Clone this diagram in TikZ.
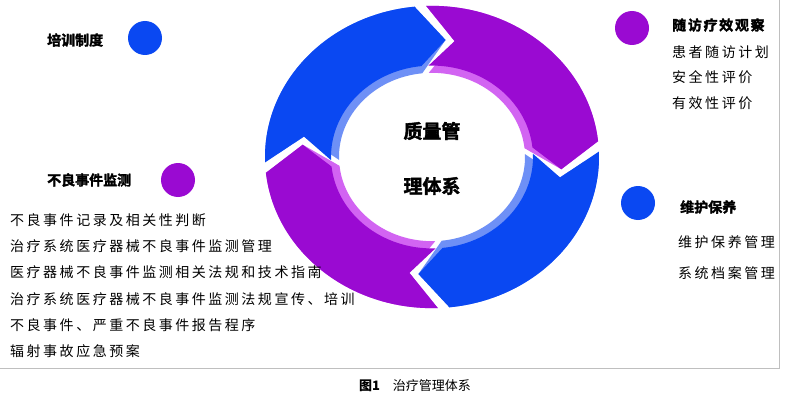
\documentclass[tikz,border=0pt]{standalone}
\usepackage{fontspec}
\setmainfont{Noto Sans CJK SC}
\newfontfamily\cjk{Noto Sans CJK SC}
\newfontfamily\cjksp[LetterSpace=18]{Noto Sans CJK SC}
\newfontfamily\cjkbold[BoldFont=*,FakeBold=2]{Noto Sans CJK SC Bold}
\definecolor{myblue}{HTML}{0A48F2}
\definecolor{myblueL}{HTML}{6E90F6}
\definecolor{mypurp}{HTML}{9A0AD2}
\definecolor{mypurpL}{HTML}{D264F2}
\begin{document}
\begin{tikzpicture}[x=1pt,y=1pt,
  lst/.style={anchor=west,inner sep=0pt,font=\fontsize{14}{14}\selectfont\cjksp},
  hdr/.style={anchor=west,inner sep=0pt,font=\fontsize{14}{14}\selectfont\cjkbold},
  dot/.style={circle,minimum size=34pt,inner sep=0pt}]
\useasboundingbox (0,0) rectangle (796,400);
\draw[gray!50,line width=1pt] (779,400) -- (779,32) -- (0,32);
\begin{scope}[shift={(432,243)},yscale=0.905]
\foreach \t/\c/\l in {182/myblue/myblueL, 92/mypurp/mypurpL, 2/myblue/myblueL, -88/mypurp/mypurpL}{
  \pgfmathsetmacro\h{\t-86}\pgfmathsetmacro\p{\t-98}\pgfmathsetmacro\n{\t-12}
  \fill[\l] (\t:167) arc[start angle=\t,end angle=\h,radius=167] -- (\p:130) -- (\h:93)
     arc[start angle=\h,end angle=\t,radius=93] -- (\n:130) -- cycle;
  \fill[\c] (\t:167) arc[start angle=\t,end angle=\h,radius=167] -- (\p:130) -- (\h:101)
     arc[start angle=\h,end angle=\t,radius=101] -- (\n:130) -- cycle;
}
\end{scope}
\node[font=\fontsize{19}{19}\selectfont\cjkbold,inner sep=0pt] (t1) at (432,269) {质量管};
\node[font=\fontsize{19}{19}\selectfont\cjkbold,inner sep=0pt] (t2) at (432,214) {理体系};
% left top
\node[hdr] (h1) at (47,360) {培训制度};
\node[dot,fill=myblue] (d1) at (145,362) {};
% right top
\node[hdr,font=\fontsize{14}{14}\selectfont\cjkbold\addfontfeature{LetterSpace=12}] (h2) at (672,375) {随访疗效观察};
\node[dot,fill=mypurp] (d2) at (632,372) {};
\node[lst] (r1) at (672,348) {患者随访计划};
\node[lst] (r2) at (672,323) {安全性评价};
\node[lst] (r3) at (672,297) {有效性评价};
% left mid
\node[hdr] (h3) at (47,220) {不良事件监测};
\node[dot,fill=mypurp] (d3) at (178,220) {};
\node[lst] (l1) at (10,180) {不良事件记录及相关性判断};
\node[lst] (l2) at (10,154) {治疗系统医疗器械不良事件监测管理};
\node[lst] (l3) at (10,128) {医疗器械不良事件监测相关法规和技术指南};
\node[lst] (l4) at (10,101) {治疗系统医疗器械不良事件监测法规宣传、培训};
\node[lst] (l5) at (10,75) {不良事件、严重不良事件报告程序};
\node[lst] (l6) at (10,49) {辐射事故应急预案};
% right mid
\node[hdr] (h4) at (680,193) {维护保养};
\node[dot,fill=myblue] (d4) at (638,197) {};
\node[lst] (m1) at (678,158) {维护保养管理};
\node[lst] (m2) at (678,127) {系统档案管理};
\node[font=\fontsize{13}{13}\selectfont\cjk,inner sep=0pt] (cap) at (415,14) {\textbf{图1}\quad 治疗管理体系};
\end{tikzpicture}
\end{document}
